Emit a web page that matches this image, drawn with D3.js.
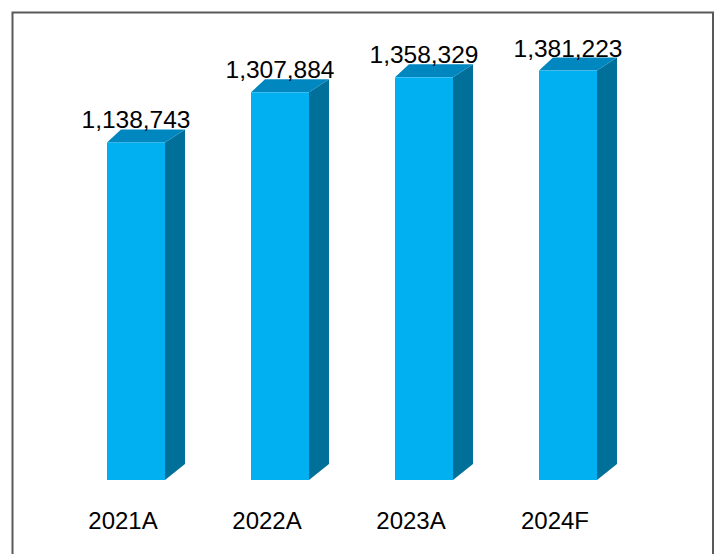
<!DOCTYPE html>
<html>
<head>
<meta charset="utf-8">
<script src="https://cdn.jsdelivr.net/npm/d3@7"></script>
<style>
  html, body { margin: 0; padding: 0; background: #fff; }
  svg { display: block; font-family: "Liberation Sans", Arial, sans-serif; }
</style>
</head>
<body>
<script>
// Yearly totals, actuals (A) and forecast (F)
const categories = ["2021A", "2022A", "2023A", "2024F"];
const values = [1138743, 1307884, 1358329, 1381223];
const valueLabels = ["1,138,743", "1,307,884", "1,358,329", "1,381,223"];

const W = 715, H = 554;
const svg = d3.select("body").append("svg").attr("width", W).attr("height", H);

// chart frame
svg.append("rect")
  .attr("x", 12.5).attr("y", 12.5)
  .attr("width", 700.5).attr("height", 560)
  .attr("fill", "none").attr("stroke", "#595959").attr("stroke-width", 2);

const x = d3.scaleBand()
  .domain(categories)
  .range([64, 640])
  .paddingInner(0.5972)
  .paddingOuter(0.2986);

const y = d3.scaleLinear().domain([0, 1400000]).range([480, 65]);

// 3D depth offsets (left/right back corners and vertical rise)
const dxL = 14, dxR = 20, dyTop = 13, dyBot = 16;

const colFront = "#00B0F0", colTop = "#0087C0", colSide = "#006F99";

const bars = svg.append("g").selectAll("g")
  .data(categories.map((c, i) => ({ c, v: values[i], label: valueLabels[i] })))
  .join("g");

// side face
bars.append("path")
  .attr("fill", colSide)
  .attr("d", d => {
    const x1 = x(d.c) + x.bandwidth(), yt = y(d.v), yb = y(0);
    return `M${x1},${yt}L${x1 + dxR},${yt - dyTop}L${x1 + dxR},${yb - dyBot}L${x1},${yb}Z`;
  });

// top face
bars.append("path")
  .attr("fill", colTop)
  .attr("d", d => {
    const x0 = x(d.c), x1 = x0 + x.bandwidth(), yt = y(d.v);
    return `M${x0},${yt}L${x0 + dxL},${yt - dyTop}L${x1 + dxR},${yt - dyTop}L${x1},${yt}Z`;
  });

// front face
bars.append("rect")
  .attr("fill", colFront)
  .attr("x", d => x(d.c))
  .attr("y", d => y(d.v))
  .attr("width", x.bandwidth())
  .attr("height", d => y(0) - y(d.v));

// value labels
bars.append("text")
  .attr("x", d => x(d.c) + x.bandwidth() / 2)
  .attr("y", d => y(d.v) - 14)
  .attr("text-anchor", "middle")
  .attr("font-size", 24.5)
  .attr("fill", "#000")
  .text(d => d.label);

// category labels
svg.append("g").selectAll("text")
  .data(categories)
  .join("text")
  .attr("x", d => x(d) + x.bandwidth() / 2 - 13)
  .attr("y", 529)
  .attr("text-anchor", "middle")
  .attr("font-size", 24)
  .attr("fill", "#000")
  .text(d => d);
</script>
</body>
</html>
